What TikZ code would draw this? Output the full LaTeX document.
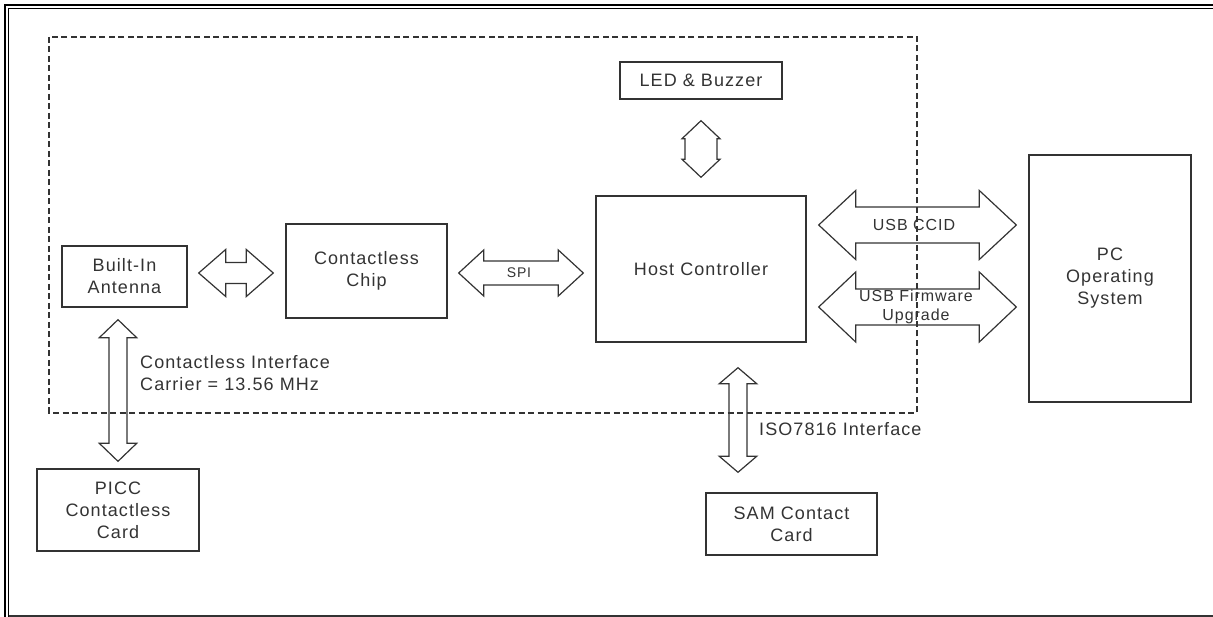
\documentclass[tikz,border=0pt]{standalone}
\usepackage{fontspec}
\setmainfont{Liberation Sans}[LetterSpace=6]
\usetikzlibrary{calc}
\definecolor{ink}{HTML}{333333}

% fat double arrows: from, to, head length, head half width, shaft half width
\newcommand{\harr}[5]{%
  \draw[fat] let \p1=(#1), \p2=(#2) in
    (\x1,\y1) -- (\x1+#3,\y1+#4) -- (\x1+#3,\y1+#5) -- (\x2-#3,\y1+#5) -- (\x2-#3,\y1+#4) -- (\x2,\y1)
    -- (\x2-#3,\y1-#4) -- (\x2-#3,\y1-#5) -- (\x1+#3,\y1-#5) -- (\x1+#3,\y1-#4) -- cycle;}
\newcommand{\varr}[5]{%
  \draw[fat] let \p1=(#1), \p2=(#2) in
    (\x1,\y1) -- (\x1+#4,\y1-#3) -- (\x1+#5,\y1-#3) -- (\x1+#5,\y2+#3) -- (\x1+#4,\y2+#3) -- (\x1,\y2)
    -- (\x1-#4,\y2+#3) -- (\x1-#5,\y2+#3) -- (\x1-#5,\y1-#3) -- (\x1-#4,\y1-#3) -- cycle;}

\begin{document}
\begin{tikzpicture}
  [x=1pt,y=-1pt,
   blk/.style={draw=ink,line width=1.4pt,text=ink,align=center,inner sep=0pt,font=\fontsize{18}{22}\selectfont},
   lbl/.style={text=ink,inner sep=0pt,align=left,font=\fontsize{18}{22}\selectfont},
   fat/.style={draw=ink,line width=1.2pt}]
  \useasboundingbox (0,0) rectangle (1213,617);

  % page frame
  \draw[line width=2.5pt] (5,617) -- (5,5) -- (1213,5);
  \draw[line width=1pt] (8.5,617) -- (8.5,8.5) -- (1213,8.5);
  \draw[ink,line width=2pt] (8.5,616) -- (1213,616);

  % reader boundary
  \draw[ink,line width=1.4pt,dash pattern=on 6pt off 3.5pt] (49,37) rectangle (917,413);

  \node[blk,minimum width=162,minimum height=37] (led) at (701,80.5) {LED \& Buzzer};
  \node[blk,minimum width=210,minimum height=146] (host) at (701,269) {Host Controller};
  \node[blk,minimum width=125,minimum height=61] (ant) at (124.5,276.5) {Built-In\\Antenna};
  \node[blk,minimum width=161,minimum height=94] (chip) at (366.5,271) {Contactless\\Chip};
  \node[blk,minimum width=162,minimum height=247] (pc) at (1110,278.5) {PC\\Operating\\System};
  \node[blk,minimum width=162,minimum height=82] (picc) at (118,510) {PICC\\Contactless\\Card};
  \node[blk,minimum width=171,minimum height=62] (sam) at (791.5,524) {SAM Contact\\Card};

  \varr{$(led.south)+(0,21)$}{$(host.north)+(0,-18)$}{18}{19}{16}
  \harr{$(ant.east)+(11,-3.5)$}{$(chip.west)+(-12,0)$}{27}{23.5}{10.5}
  \harr{$(chip.east)+(11,2)$}{$(host.west)+(-12,0)$}{25}{23}{12}
  \harr{$(host.east)+(12,-44)$}{$(pc.west)+(-12,0)$}{37}{34.5}{18}
  \harr{$(host.east)+(12,38)$}{$(pc.west)+(-12,0)$}{37}{35}{18}
  \varr{$(ant.south)+(-6.5,12)$}{$(picc.north)+(0,-7)$}{18}{18.7}{9}
  \varr{$(host.south)+(37,25)$}{$(sam.north)+(0,-20)$}{16}{18.7}{9}

  \node[lbl,font=\fontsize{14}{16}\selectfont] (spi) at (519,273) {SPI};
  \node[lbl,font=\fontsize{16}{19}\selectfont] (ccid) at (914,225) {USB CCID};
  \node[lbl,align=center,font=\fontsize{16}{19}\selectfont] (fw) at (916,307) {USB Firmware\\Upgrade};
  \node[lbl,anchor=west] (cif) at (140,373) {Contactless Interface\\Carrier = 13.56 MHz};
  \node[lbl,anchor=west] (iso) at (759,429) {ISO7816 Interface};

\end{tikzpicture}
\end{document}
